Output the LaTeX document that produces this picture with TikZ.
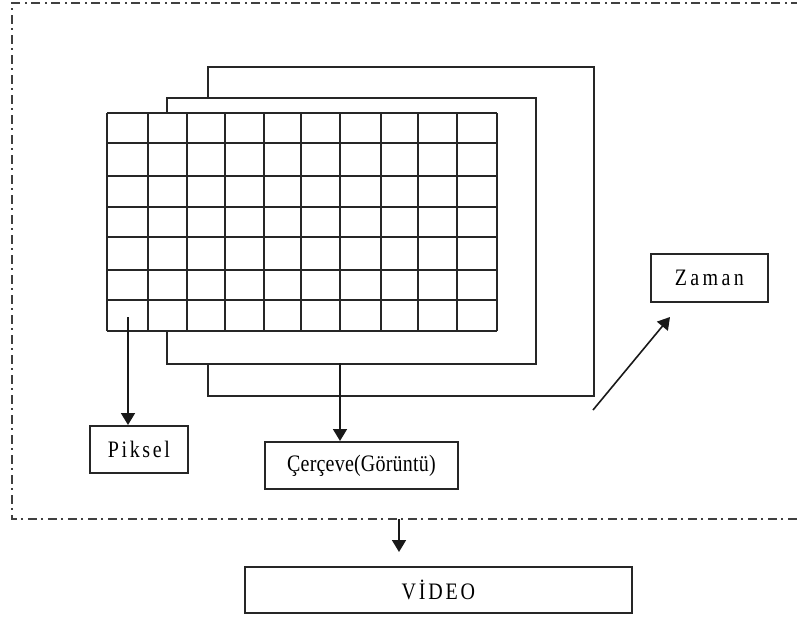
\documentclass[tikz,border=0pt]{standalone}
\usepackage{fontspec}
\usepackage{graphicx}
\setmainfont{Liberation Serif}
\usetikzlibrary{arrows.meta}
% label text set a little taller than its width
\newcommand{\tallText}[1]{\scalebox{1}[1.18]{#1}}
\begin{document}
\begin{tikzpicture}[x=1pt,y=-1pt,
  line/.style={line width=1.8pt,draw=black!85},
  labelbox/.style={line, rectangle, inner sep=0pt, anchor=north west, font=\fontsize{20}{22}\selectfont},
  framebox/.style={line, rectangle, inner sep=0pt, anchor=north west, fill=white},
  pointer/.style={line width=1.6pt, draw=black!90, -{Triangle[length=12pt,width=14pt]}},
  dashdot/.style={line width=1.6pt, draw=black!75, dash pattern=on 9pt off 4pt on 2pt off 5pt}
]
\useasboundingbox (0,0) rectangle (797,619);

% dash-dot enclosure (open at the right)
\draw[dashdot] (800,3) -- (12,3) -- (12,519) -- (800,519);

% stacked frames, back to front
\node[framebox, minimum width=386pt, minimum height=329pt] (f3) at (207,66) {};
\node[framebox, minimum width=369pt, minimum height=266pt] (f2) at (166,97) {};

% front frame: 10 x 7 pixel grid
\fill[white] (107,113) rectangle (497,331);
\foreach \x in {107,148,187,225,264,301,340,381,418,457,497}
  \draw[line] (\x,113) -- (\x,331);
\foreach \y in {113,143,176,207,237,270,300,331}
  \draw[line] (107,\y) -- (497,\y);

% labels
\node[labelbox, minimum width=98pt, minimum height=47pt] (piksel) at (89,425)
  {\tallText{\addfontfeature{LetterSpace=13}Piksel}};
\node[labelbox, minimum width=193pt, minimum height=47pt] (cerceve) at (264,441)
  {\tallText{\addfontfeature{LetterSpace=1}Çerçeve(Görüntü)}};
\node[labelbox, minimum width=117pt, minimum height=48pt] (zaman) at (650,253)
  {\tallText{\addfontfeature{LetterSpace=17}Zaman}};
\node[labelbox, minimum width=387pt, minimum height=46pt] (video) at (244,566)
  {\tallText{\addfontfeature{LetterSpace=14}VİDEO}};

% connector end points
\coordinate (pix) at (128,317);
\coordinate (frm) at (340,363);
\coordinate (t0) at (593,410);
\coordinate (t1) at (670,317);
\coordinate (encl) at (399,519);
\coordinate (vtop) at (399,552);

\draw[pointer] (pix) -- (pix |- piksel.north);
\draw[pointer] (frm) -- (frm |- cerceve.north);
\draw[pointer] (t0) -- (t1);
\draw[pointer] (encl) -- (vtop);
\end{tikzpicture}
\end{document}
